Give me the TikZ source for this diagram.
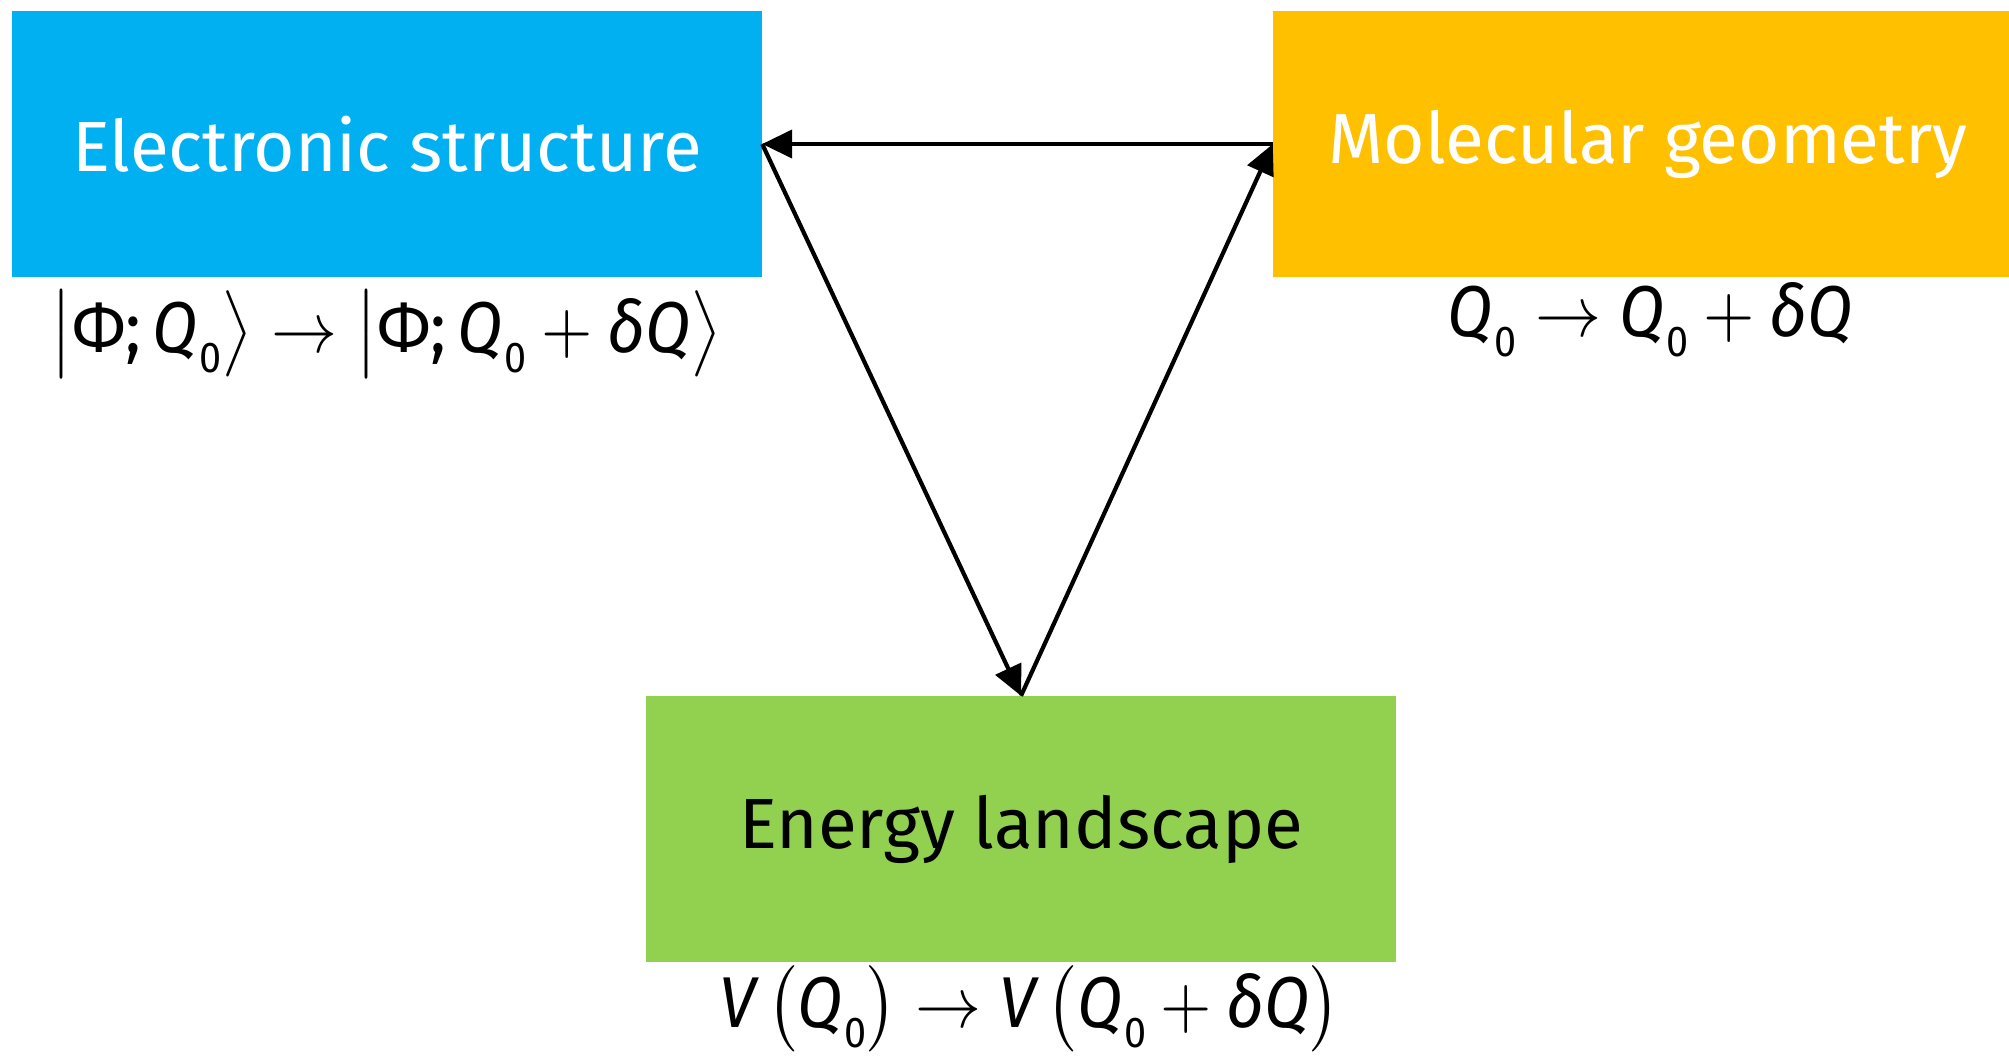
\RequirePackage{fix-cm}
\documentclass[tikz,border=0pt]{standalone}
\usepackage{amsmath}
\usepackage{fontspec}
\setmainfont{Fira Sans}
\usetikzlibrary{arrows.meta}
\definecolor{esblue}{HTML}{00B0F0}
\definecolor{mgyellow}{HTML}{FFC000}
\definecolor{elgreen}{HTML}{92D050}
\newcommand\Qz{\text{\itshape Q\kern0.3pt\raisebox{-2.8pt}{\fontsize{6}{7}\selectfont\upshape 0}}}
\newcommand\dQ{\text{\itshape δQ}}
\newcommand\iV{\text{\itshape V}}
\newcommand\tallph{\vcenter{\hbox{\rule{0pt}{12pt}}}}
\newcommand\biglabel[1]{\scalebox{6.6}[7.2]{\fontsize{10}{12}\selectfont$#1$}}
\tikzset{
  boxnode/.style={rectangle, minimum width=750pt, minimum height=266pt, inner sep=0pt,
    font=\fontsize{71}{80}\selectfont},
  mathlabel/.style={inner sep=0pt, anchor=base},
  conn/.style={line width=4.2pt, -{Triangle[length=30pt,width=28pt]}}
}
\begin{document}
\begin{tikzpicture}[x=1pt,y=-1pt]
\useasboundingbox (0,0) rectangle (2009,1058);
\clip (0,0) rectangle (2009,1058);
\node[boxnode, fill=esblue, text=white] (es) at (387,144) {Electronic structure};
\node[boxnode, fill=mgyellow, text=white] (mg) at (1648,144) {Molecular geometry};
\node[boxnode, fill=elgreen, text=black] (el) at (1021,829) {Energy landscape};
\node[mathlabel] (les) at (386,352) {\biglabel{\left|\tallph\text{Φ;}\,\Qz\right\rangle\rightarrow\left|\tallph\text{Φ;}\,\Qz+\dQ\right\rangle}};
\node[mathlabel] (lmg) at (1650,336) {\biglabel{\Qz\rightarrow\Qz+\dQ}};
\node[mathlabel] (lel) at (1030,1027) {\biglabel{\iV\left(\tallph\Qz\right)\rightarrow\iV\left(\tallph\Qz+\dQ\right)}};
\draw[conn] (mg.west) -- (es.east);
\draw[conn] (es.east) -- (el.north);
\draw[conn] (el.north) -- (mg.west);
\end{tikzpicture}
\end{document}
